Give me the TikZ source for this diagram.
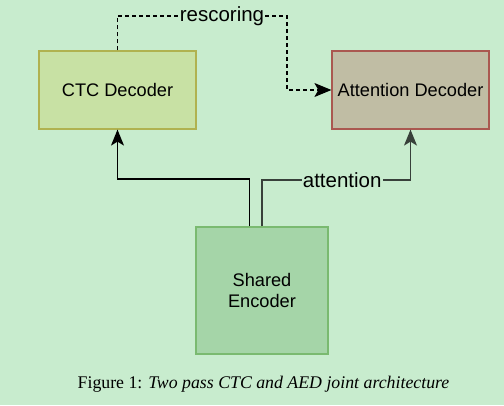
\documentclass[tikz,border=0pt]{standalone}
\usepackage{fontspec}
\setmainfont{Liberation Serif}
\setsansfont{Liberation Sans}
\usetikzlibrary{arrows.meta}
\definecolor{bgGreen}{RGB}{200,236,206}
\definecolor{ctcFill}{RGB}{200,225,164}
\definecolor{ctcLine}{RGB}{176,178,80}
\definecolor{attFill}{RGB}{192,189,164}
\definecolor{attLine}{RGB}{170,88,80}
\definecolor{encFill}{RGB}{165,213,168}
\definecolor{encLine}{RGB}{122,186,112}
\definecolor{attWire}{RGB}{56,64,58}

\begin{document}
\begin{tikzpicture}
[thick,>={Stealth[length=16pt,width=13pt,inset=4pt]},%
  boxDecorate/.style={shape=rectangle,draw,line width=1.2pt,inner sep=0pt,%
    font=\sffamily\fontsize{18.2}{21}\selectfont,align=center},%
  lineDecorate/.style={line width=1.3pt,->},%
  labelDecorate/.style={fill=bgGreen,inner sep=1pt,font=\sffamily\fontsize{20.5}{22}\selectfont}]
%% background and size (1 unit = 1pt, y downwards)
\begin{scope}[x=1pt,y=-1pt]
\fill[bgGreen] (0,0) rectangle (504,405);
\useasboundingbox (0,0) rectangle (504,405);
%% nodes
\node[boxDecorate,fill=ctcFill,draw=ctcLine,minimum width=157pt,minimum height=78pt] (ctc) at (117.5,90) {CTC Decoder};
\node[boxDecorate,fill=attFill,draw=attLine,minimum width=157pt,minimum height=78pt] (att) at (410.5,90) {Attention Decoder};
\node[boxDecorate,fill=encFill,draw=encLine,minimum width=132pt,minimum height=127pt] (enc) at (262,290.5) {Shared\\Encoder};
\node[font=\fontsize{17.8}{20}\selectfont] (cap) at (263.5,384) {Figure 1: \textit{Two pass CTC and AED joint architecture}};
%% bend points
\coordinate (splitL) at (249.5,179);
\coordinate (splitR) at (262,180);
\coordinate (turnD) at (287,16);
\end{scope}
%% connect nodes
\draw[lineDecorate] (enc.north -| splitL) -- (splitL) -| (ctc.south);
\draw[lineDecorate,attWire] (enc.north) -- (splitR) -| (att.south)
  node[labelDecorate,text=black,pos=0.27] {attention};
\draw[line width=1.1pt,dash pattern=on 4pt off 3pt,-{Stealth[length=17pt,width=14pt,inset=4pt]}]
  (ctc.north) |- (turnD) |- (att.west);
\node[labelDecorate] at ([xshift=-65pt]turnD) {rescoring};
\end{tikzpicture}
\end{document}
